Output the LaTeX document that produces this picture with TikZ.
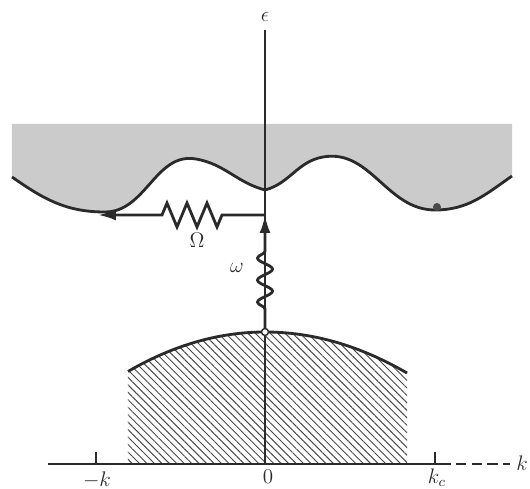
\documentclass[tikz,border=0pt]{standalone}
\usepackage{amsmath,amssymb}
\usetikzlibrary{arrows.meta, patterns.meta, decorations.pathmorphing}
\definecolor{bandgray}{HTML}{CBCBCB}
\definecolor{inkblack}{HTML}{2A2A2A}

\begin{document}
\begin{tikzpicture}[
  >={Latex[length=3.6mm, width=2.2mm]},
  axisline/.style={inkblack, line width=0.9pt},
  bandedge/.style={inkblack, line width=1.6pt},
  coupling/.style={inkblack, line width=1.6pt},
  lbl/.style={font=\large, text=inkblack, inner sep=1pt},
]

\useasboundingbox (-5.3,-0.48) rectangle (5.3,9.28);

% Key points
\coordinate (origin) at (0,0);
\coordinate (axtop) at (0,8.68);
\coordinate (apex) at (0,2.64);
\coordinate (junc) at (0,4.98);
\coordinate (omtip) at (-3.34,4.98);

% ============ Upper band (shaded) ============
\fill[bandgray] (-5.06,6.8) -- (4.94,6.8) -- (4.94,5.76)
  to[out=-145,in=0] (3.4,5.08) to[out=180,in=10] (1.16,6.14)
  to[out=190,in=15] (0,5.48) to[out=165,in=-10] (-1.38,6.1)
  to[out=170,in=0] (-3.2,5.04) to[out=180,in=-35] (-5.06,5.74) -- cycle;
\draw[bandedge] (-5.06,5.74) to[out=-35,in=180] (-3.2,5.04)
  to[out=0,in=170] (-1.38,6.1) to[out=-10,in=165] (0,5.48)
  to[out=15,in=190] (1.16,6.14) to[out=10,in=180] (3.4,5.08)
  to[out=0,in=-145] (4.94,5.76);
\fill[inkblack!85] (3.44,5.14) circle (0.08);

% ============ Lower band (hatched) ============
\fill[pattern={Lines[angle=-45, distance=3pt, line width=0.55pt]},
      pattern color=inkblack!85]
  (-2.74,0) -- (-2.74,1.85) .. controls (-1.83,2.38) and (-0.91,2.64) .. (apex)
  .. controls (0.95,2.64) and (1.89,2.37) .. (2.84,1.82) -- (2.84,0) -- cycle;
\draw[bandedge] (-2.74,1.85) .. controls (-1.83,2.38) and (-0.91,2.64) .. (apex)
  .. controls (0.95,2.64) and (1.89,2.37) .. (2.84,1.82);

% ============ Axes ============
\draw[axisline] (origin) -- (axtop);
\node[lbl] (eps) at (0,8.94) {$\epsilon$};

\draw[axisline] (-4.34,0) -- (3.5,0);
\draw[axisline, dash pattern=on 6pt off 3pt] (3.5,0) -- (4.9,0);
\node[lbl] (kax) at (5.14,0.02) {$k$};

% ticks
\draw[axisline] (-3.38,0) -- (-3.38,0.24);
\draw[axisline] (3.4,0) -- (3.4,0.24);
\node[lbl] (mk) at (-3.36,-0.32) {$-k$};
\node[lbl] (zero) at (0.06,-0.26) {0};
\node[lbl] (kc) at (3.44,-0.28) {$k_c$};

% ============ Couplings ============
\draw[coupling, ->] (apex) -- (0,3.1)
  decorate[decoration={snake, amplitude=1.5mm, segment length=4.4mm}] {-- (0,4.3)}
  -- (junc);
\node[lbl] (omega) at (-0.56,3.92) {$\omega$};

\draw[coupling, ->] (junc) -- (-0.86,4.98)
  decorate[decoration={zigzag, amplitude=2.4mm, segment length=4mm}] {-- (-2.1,4.98)}
  -- (omtip);
\node[lbl] (Omega) at (-1.36,4.48) {$\Omega$};

\draw[inkblack, line width=0.8pt, fill=white] (apex) circle (0.07);

\end{tikzpicture}
\end{document}
